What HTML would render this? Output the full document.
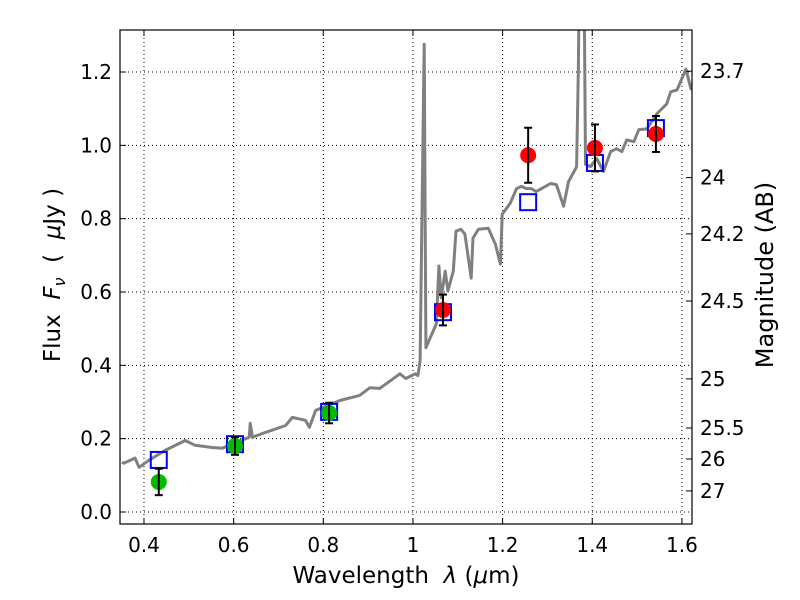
<!DOCTYPE html>
<html><head><meta charset="utf-8">
<style>
html,body{margin:0;padding:0;background:#fff;}
svg{display:block;font-family:"DejaVu Sans","Liberation Sans",sans-serif;}
</style></head>
<body>
<svg id="chart" width="800" height="600" viewBox="0 0 800 600"></svg>
<script>
const specWl=[0.351,0.355,0.380,0.389,0.411,0.447,0.492,0.514,0.552,0.575,0.635,0.637,0.642,0.671,0.716,0.731,0.760,0.769,0.783,0.837,0.881,0.904,0.926,0.971,0.984,1.005,1.011,1.016,1.025,1.029,1.052,1.058,1.063,1.072,1.078,1.090,1.096,1.107,1.116,1.130,1.134,1.146,1.168,1.184,1.195,1.199,1.217,1.231,1.242,1.253,1.264,1.275,1.287,1.307,1.320,1.336,1.347,1.363,1.365,1.369,1.372,1.381,1.385,1.396,1.410,1.425,1.441,1.454,1.466,1.477,1.493,1.504,1.522,1.544,1.566,1.575,1.589,1.609,1.620,1.631];
const specFlux=[0.136,0.133,0.147,0.122,0.141,0.168,0.195,0.182,0.176,0.174,0.204,0.242,0.204,0.217,0.236,0.258,0.250,0.231,0.277,0.304,0.318,0.339,0.337,0.377,0.364,0.377,0.372,0.413,1.276,0.448,0.513,0.671,0.584,0.657,0.603,0.657,0.766,0.771,0.758,0.638,0.747,0.771,0.774,0.730,0.676,0.812,0.842,0.882,0.888,0.882,0.882,0.874,0.882,0.896,0.893,0.834,0.901,0.937,0.942,1.219,1.6,1.6,0.948,0.942,0.964,0.929,0.983,0.991,0.983,1.015,1.010,1.043,1.045,1.086,1.113,1.146,1.151,1.208,1.154,1.195];
const modelWl=[0.433,0.603,0.813,1.067,1.257,1.406,1.542];
const modelFlux=[0.142,0.185,0.273,0.545,0.845,0.952,1.047];
const greenWl=[0.433,0.603,0.813];
const greenFlux=[0.082,0.180,0.270];
const greenErr=[0.036,0.024,0.028];
const redWl=[1.067,1.257,1.406,1.542];
const redFlux=[0.551,0.973,0.993,1.031];
const redErr=[0.042,0.075,0.064,0.049];
const xTicks=[0.4,0.6,0.8,1.0,1.2,1.4,1.6];
const xTickLabels=["0.4","0.6","0.8","1","1.2","1.4","1.6"];
const yTicks=[0.0,0.2,0.4,0.6,0.8,1.0,1.2];
const yTickLabels=["0.0","0.2","0.4","0.6","0.8","1.0","1.2"];
const magTicks=[23.7,24,24.2,24.5,25,25.5,26,27];
const magTickLabels=["23.7","24","24.2","24.5","25","25.5","26","27"];

const L=120,R=692,T=30,B=524;
const X0=0.3465,X1=1.6225,Y0=-0.0327,Y1=1.3146;
const xs=v=>L+(v-X0)/(X1-X0)*(R-L);
const ys=v=>B-(v-Y0)/(Y1-Y0)*(B-T);
const NS="http://www.w3.org/2000/svg";
const svg=document.getElementById('chart');
function mk(tag,attrs,parent){const e=document.createElementNS(NS,tag);for(const k in attrs)e.setAttribute(k,attrs[k]);(parent||svg).appendChild(e);return e;}

const defs=mk('defs',{});
const cp=mk('clipPath',{id:'plotclip'},defs);
mk('rect',{x:L,y:T,width:R-L,height:B-T},cp);

const grid=mk('g',{});


xTicks.forEach(v=>{mk('line',{x1:xs(v),x2:xs(v),y1:T,y2:B,stroke:'#000','stroke-width':1,'stroke-dasharray':'1,3'},grid);});
yTicks.forEach(v=>{mk('line',{x1:L,x2:R,y1:ys(v),y2:ys(v),stroke:'#000','stroke-width':1,'stroke-dasharray':'1,3'},grid);});

const plot=mk('g',{'clip-path':'url(#plotclip)'});
let d='';
specWl.forEach((w,i)=>{d+=(i?'L':'M')+xs(w).toFixed(1)+','+ys(specFlux[i]).toFixed(1);});
const spec=mk('path',{d:d,fill:'none',stroke:'#808080','stroke-width':3,'stroke-linejoin':'round'},plot);



modelWl.forEach((w,i)=>{
  const s=mk('rect',{x:xs(w)-8,y:ys(modelFlux[i])-8,width:16,height:16,fill:'none',stroke:'#0000ff','stroke-width':2},plot);
  
  
});
function pts(wl,fl,er,col,name){
  wl.forEach((w,i)=>{
    const g=mk('g',{},plot);
    
    
    const cx=xs(w),y1=ys(fl[i]+er[i]),y2=ys(fl[i]-er[i]);
    mk('circle',{cx:cx,cy:ys(fl[i]),r:8,fill:col},g);
    mk('line',{x1:cx,x2:cx,y1:y1,y2:y2,stroke:'#000','stroke-width':2},g);
    mk('line',{x1:cx-4,x2:cx+4,y1:y1,y2:y1,stroke:'#000','stroke-width':2},g);
    mk('line',{x1:cx-4,x2:cx+4,y1:y2,y2:y2,stroke:'#000','stroke-width':2},g);
  });
}
pts(greenWl,greenFlux,greenErr,'#00bb00','hst-acs-point');
pts(redWl,redFlux,redErr,'#ff0000','hst-wfc3-point');

const fr=mk('rect',{x:L,y:T,width:R-L,height:B-T,fill:'none',stroke:'#000','stroke-width':1.2});



const xt=mk('g',{});


xTicks.forEach((v,i)=>{
  const x=xs(v);
  mk('line',{x1:x,x2:x,y1:B,y2:B-6,stroke:'#000'},xt);
  mk('line',{x1:x,x2:x,y1:T,y2:T+6,stroke:'#000'},xt);
  const t=mk('text',{x:x,y:B+28,'font-size':20,'text-anchor':'middle'},xt);t.textContent=xTickLabels[i];
});
const yt=mk('g',{});


yTicks.forEach((v,i)=>{
  const y=ys(v);
  mk('line',{x1:L,x2:L+6,y1:y,y2:y,stroke:'#000'},yt);
  const t=mk('text',{x:L-8,y:y+7,'font-size':20,'text-anchor':'end'},yt);t.textContent=yTickLabels[i];
});
const mt=mk('g',{});


magTicks.forEach((m,i)=>{
  const y=ys(Math.pow(10,(23.9-m)/2.5));
  mk('line',{x1:R,x2:R-6,y1:y,y2:y,stroke:'#000'},mt);
  const t=mk('text',{x:R+8,y:y+7,'font-size':20,'text-anchor':'start'},mt);t.textContent=magTickLabels[i];
});
</script>
<svg style="position:absolute;left:0;top:0" width="800" height="600">
<text x="406" y="583" font-size="23" text-anchor="middle" xml:space="preserve" font-family="DejaVu Sans, Liberation Sans, sans-serif">Wavelength  <tspan font-style="italic">λ</tspan> (<tspan font-style="italic">μ</tspan>m)</text>
<text transform="translate(60,275) rotate(-90)" font-size="23" text-anchor="middle" xml:space="preserve" font-family="DejaVu Sans, Liberation Sans, sans-serif">Flux  <tspan font-style="italic">F</tspan><tspan font-style="italic" font-size="16" dy="5">ν</tspan><tspan dy="-5">  (  </tspan><tspan font-style="italic">μ</tspan>Jy )</text>
<text transform="translate(773,275) rotate(-90)" font-size="24" text-anchor="middle" font-family="DejaVu Sans, Liberation Sans, sans-serif">Magnitude (AB)</text>
</svg>
</body></html>
